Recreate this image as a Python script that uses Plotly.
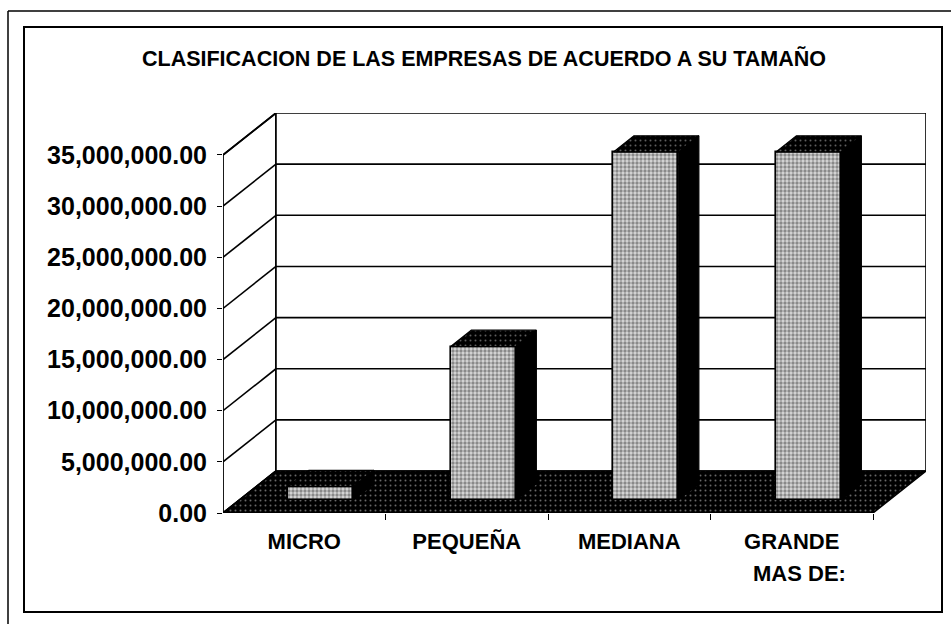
import plotly.graph_objects as go

# ---------------- data ----------------
categories = ["MICRO", "PEQUEÑA", "MEDIANA", "GRANDE"]
values = [1300000, 15000000, 34000000, 34000000]
tick_values = [0, 5000000, 10000000, 15000000, 20000000, 25000000, 30000000, 35000000]
title_text = "CLASIFICACION DE LAS EMPRESAS DE ACUERDO A SU TAMAÑO"
note_text = "MAS DE:"

# ---------------- style / geometry ----------------
W, H = 951, 624
PL, PR, PT, PB = 223, 926, 113, 513        # plot area in pixels
DX = 0.326                                  # 3-D depth, x units
DY = 4.1e6                                  # 3-D depth, y units
F = 0.31                                    # depth fraction of bar front
D = 0.39                                    # bar depth fraction
BW = 0.4                                    # bar width
FONT = "Arial, Liberation Sans, sans-serif"

YMAX = tick_values[-1]
x0, x1 = -0.5, len(categories) - 0.5


def px(xp):
    return (xp - PL) / (PR - PL)


def py(yp):
    return (PB - yp) / (PB - PT)


fig = go.Figure()
common = dict(mode="lines", hoverinfo="skip", showlegend=False)

# left wall (front axis line included)
fig.add_trace(go.Scatter(
    x=[x0, x0, x0 + DX, x0 + DX, x0], y=[0, YMAX, YMAX + DY, DY, 0],
    fill="toself", fillcolor="white", line=dict(color="black", width=1.8), **common))
# back wall
fig.add_trace(go.Scatter(
    x=[x0 + DX, x1 + DX, x1 + DX, x0 + DX, x0 + DX], y=[DY, DY, YMAX + DY, YMAX + DY, DY],
    fill="toself", fillcolor="white", line=dict(color="black", width=1.6), **common))
# gridlines on back wall and left wall
gx, gy = [], []
for v in tick_values:
    gx += [x0, x0 + DX, None]
    gy += [v, v + DY, None]
    if 0 < v < YMAX:
        gx += [x0 + DX, x1 + DX, None]
        gy += [v + DY, v + DY, None]
fig.add_trace(go.Scatter(x=gx, y=gy, line=dict(color="black", width=1.6), **common))
# floor
fig.add_trace(go.Scatter(
    x=[x0, x1, x1 + DX, x0 + DX, x0], y=[0, 0, DY, DY, 0],
    fill="toself", fillcolor="black",
    fillpattern=dict(shape=".", bgcolor="black", fgcolor="#cfcfcf", size=5, solidity=0.12),
    line=dict(color="black", width=1.5), **common))

# ---------------- bars (overlay subplot, drawn above walls/floor) ----------------
bar_x = [i + F * DX for i in range(len(categories))]
fig.add_trace(go.Bar(
    x=bar_x, y=values, base=F * DY, width=BW, xaxis="x2", yaxis="y2",
    marker=dict(color="#c8c8c8", line=dict(color="black", width=1.6),
                pattern=dict(shape=".", fgcolor="#3a3a3a", bgcolor="#d8d8d8",
                             size=4, solidity=0.55)),
    hoverinfo="skip", showlegend=False))

sx, sy, tx, ty = [], [], [], []
for xc, v in zip(bar_x, values):
    xl, xr = xc - BW / 2, xc + BW / 2
    b, t = F * DY, v + F * DY
    sx += [xr, xr + D * DX, xr + D * DX, xr, xr, None]
    sy += [b, b + D * DY, t + D * DY, t, b, None]
    tx += [xl, xl + D * DX, xr + D * DX, xr, xl, None]
    ty += [t, t + D * DY, t + D * DY, t, t, None]
fig.add_trace(go.Scatter(x=sx, y=sy, fill="toself", fillcolor="black",
                         line=dict(color="black", width=1.2), xaxis="x2", yaxis="y2", **common))
fig.add_trace(go.Scatter(x=tx, y=ty, fill="toself", fillcolor="black",
                         fillpattern=dict(shape=".", bgcolor="black", fgcolor="#bbbbbb",
                                          size=5, solidity=0.12),
                         line=dict(color="black", width=1.2), xaxis="x2", yaxis="y2", **common))

# ---------------- layout ----------------
xr_ = [x0, x1 + DX]
yr_ = [0, YMAX + DY]
fig.update_layout(
    width=W, height=H, autosize=False,
    margin=dict(l=PL, r=W - PR, t=PT, b=H - PB, pad=0),
    paper_bgcolor="white", plot_bgcolor="white",
    font=dict(family=FONT, color="black"),
    showlegend=False, bargap=0,
    title=dict(text=title_text, x=484 / W, xanchor="center", y=1 - 58 / H, yanchor="middle",
               font=dict(family=FONT, size=21.5, weight="bold", color="black")),
    xaxis=dict(range=xr_, tickvals=list(range(len(categories))), ticktext=categories,
               tickfont=dict(family=FONT, size=22, weight="bold", color="black"),
               ticks="", ticklabelstandoff=13, showgrid=False, zeroline=False,
               showline=False, automargin=False, fixedrange=True,
               minor=dict(tickmode="array",
                          tickvals=[i + 0.5 for i in range(len(categories))],
                          ticks="outside", ticklen=6, tickwidth=1, tickcolor="black",
                          showgrid=False)),
    yaxis=dict(range=yr_, tickvals=tick_values, tickformat=",.2f",
               tickfont=dict(family=FONT, size=25, weight="bold", color="black"),
               ticks="outside", ticklen=5, tickwidth=1.2, tickcolor="black",
               ticklabelstandoff=5, showgrid=False, zeroline=False, showline=False,
               automargin=False, fixedrange=True),
    xaxis2=dict(overlaying="x", matches="x", range=xr_, visible=False, fixedrange=True),
    yaxis2=dict(overlaying="y", matches="y", range=yr_, visible=False, fixedrange=True),
    annotations=[dict(text=note_text, x=3, xref="x", xshift=8, y=py(573), yref="paper",
                      xanchor="center", yanchor="middle", showarrow=False,
                      font=dict(family=FONT, size=22, weight="bold", color="black"))],
    shapes=[
        dict(type="rect", xref="paper", yref="paper", x0=px(24), x1=px(942), y0=py(612), y1=py(27),
             line=dict(color="black", width=2), layer="above"),
        dict(type="line", xref="paper", yref="paper", x0=px(8), x1=px(951), y0=py(11), y1=py(11),
             line=dict(color="black", width=1.5), layer="above"),
        dict(type="line", xref="paper", yref="paper", x0=px(8), x1=px(8), y0=py(11), y1=py(624),
             line=dict(color="black", width=1.5), layer="above"),
    ],
)

fig.write_html("out.html", config={"displayModeBar": False},
               post_script="document.body.style.margin='0px';document.body.style.overflow='hidden';")
